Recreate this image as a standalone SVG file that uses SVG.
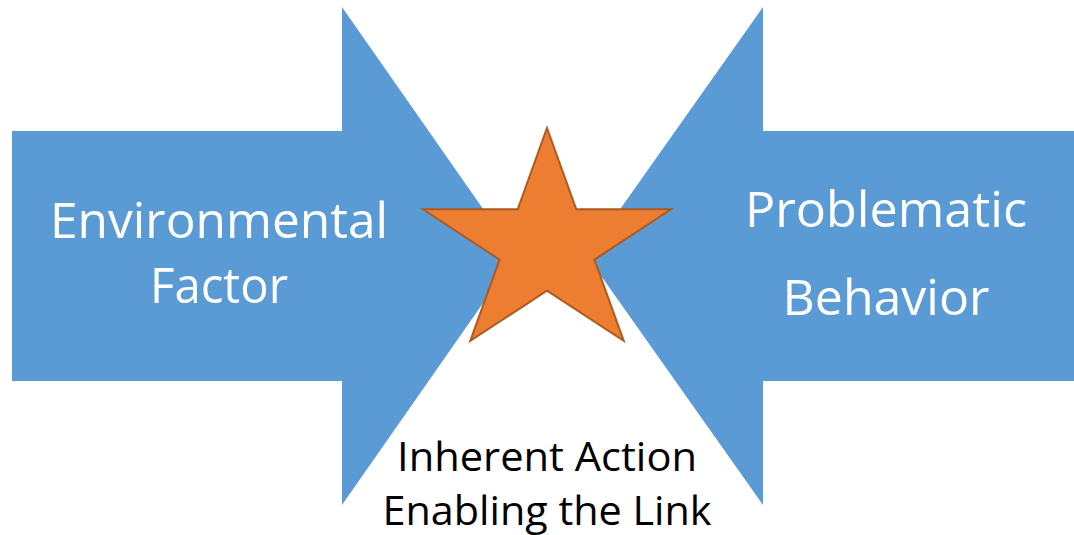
<svg xmlns="http://www.w3.org/2000/svg" width="1074" height="535" viewBox="0 0 1074 535">
<style>
.arrow{fill:#5B9BD5;}
.star{fill:#ED7D31;stroke:#AE5A21;stroke-width:2;stroke-linejoin:miter;}
.wt{fill:#FFFFFF;font-family:"Open Sans","Noto Sans",sans-serif;font-size:49px;}
.bt{fill:#000000;font-family:"Open Sans","Noto Sans",sans-serif;font-size:40px;}
</style>
<rect width="1074" height="535" fill="#FFFFFF"/>
<g id="left-arrow">
<polygon class="arrow" points="12,131 342,131 342,7 516,256 342,505 342,381 12,381"/>
<text class="wt" x="219" y="238" text-anchor="middle" textLength="338" lengthAdjust="spacingAndGlyphs">Environmental</text>
<text class="wt" x="219" y="303" text-anchor="middle" textLength="138" lengthAdjust="spacingAndGlyphs">Factor</text>
</g>
<g id="right-arrow">
<polygon class="arrow" points="1074,131 763,131 763,7 587,256 763,505 763,381 1074,381"/>
<text class="wt" x="886" y="227" text-anchor="middle" textLength="282" lengthAdjust="spacingAndGlyphs">Problematic</text>
<text class="wt" x="886" y="315" text-anchor="middle" textLength="207" lengthAdjust="spacingAndGlyphs">Behavior</text>
</g>
<g id="star-node">
<polygon class="star" points="547,128 576.3,209.3 671,209.3 594.4,259.6 623.7,340.9 547,290.7 470.3,340.9 499.6,259.6 423,209.3 517.7,209.3"/>
</g>
<g id="label">
<text class="bt" x="547" y="471" text-anchor="middle" textLength="300" lengthAdjust="spacingAndGlyphs">Inherent Action</text>
<text class="bt" x="547" y="525" text-anchor="middle" textLength="329" lengthAdjust="spacingAndGlyphs">Enabling the Link</text>
</g>
<g id="connectors"/>
</svg>
